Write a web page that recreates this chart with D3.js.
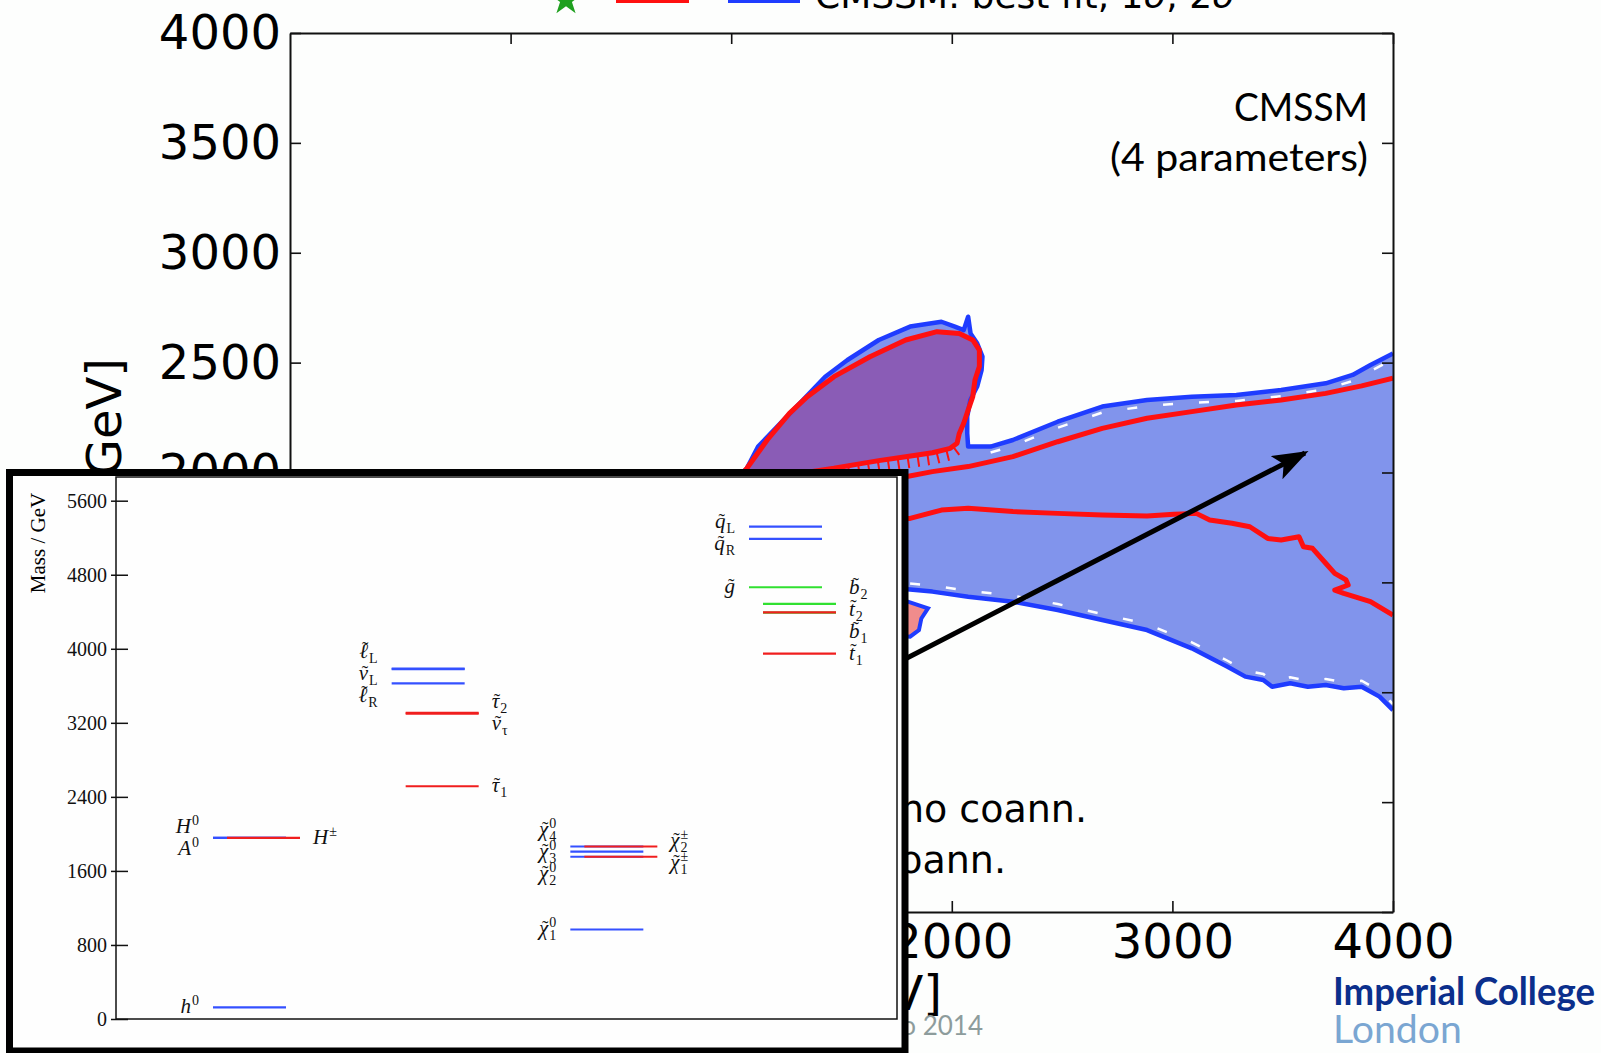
<!DOCTYPE html>
<html>
<head>
<meta charset="utf-8">
<script src="https://cdn.jsdelivr.net/npm/d3@7"></script>
<style>
  body { margin: 0; background: #fdfefd; overflow: hidden; }
  svg { display: block; }
</style>
</head>
<body>
<svg id="chart" width="1601" height="1053"></svg>
<script>
// ---- main plane (m0, m1/2), values in GeV ----
const xTicks = [0, 1000, 2000, 3000, 4000];
const yTicks = [0, 500, 1000, 1500, 2000, 2500, 3000, 3500, 4000];

// 2 sigma outline, upper side (blob + band), left to right
const sigma2Upper = [[1021,1966],[1071,2019],[1122,2118],[1223,2224],[1325,2330],[1426,2436],[1527,2512],
  [1669,2603],[1811,2664],[1953,2686],[2014,2664],[2054,2648],[2074,2709],[2085,2633],[2115,2588],
  [2139,2527],[2135,2466],[2115,2391],[2084,2330],[2070,2254],[2070,2178],[2074,2118],[2176,2118],
  [2277,2148],[2480,2231],[2682,2300],[2885,2330],[3088,2345],[3290,2353],[3493,2375],[3695,2406],
  [3817,2444],[3898,2489],[4000,2542]];
// 2 sigma outline, lower side, left to right
const sigma2Lower = [[1100,1700],[1300,1560],[1669,1480],[1811,1468],[1912,1458],[2074,1435],[2277,1412],
  [2480,1374],[2682,1329],[2885,1283],[3088,1200],[3250,1116],[3331,1071],[3412,1056],[3452,1025],
  [3534,1041],[3614,1025],[3695,1033],[3777,1018],[3858,1025],[3939,980],[4000,919]];
// 1 sigma island (purple)
const blob1s = [[1040,1985],[1071,2019],[1163,2148],[1264,2269],[1345,2345],[1466,2436],[1629,2527],
  [1791,2603],[1933,2641],[2034,2633],[2095,2603],[2125,2557],[2125,2482],[2105,2421],[2095,2345],
  [2074,2284],[2054,2224],[2034,2178],[2024,2133],[1993,2110],[1912,2090],[1791,2072],[1669,2054],
  [1568,2037],[1466,2019],[1264,1989],[1100,1975]];
// 1 sigma band edges
const band1sUpper = [[1669,1960],[1791,1981],[1912,2004],[2074,2027],[2277,2072],[2480,2140],[2682,2201],
  [2885,2247],[3088,2277],[3290,2307],[3493,2330],[3695,2360],[3858,2394],[4000,2429]];
const band1sLower = [[1669,1791],[1811,1791],[1953,1829],[2074,1837],[2277,1822],[2480,1814],[2682,1807],
  [2885,1802],[3007,1810],[3108,1814],[3169,1784],[3270,1769],[3351,1753],[3432,1700],[3493,1693],
  [3574,1708],[3594,1662],[3635,1655],[3695,1587],[3736,1541],[3787,1511],[3797,1488],[3736,1465],
  [3777,1450],[3898,1412],[4000,1351]];
// small island
const smallIsland = [[1700,1420],[1801,1412],[1892,1382],[1862,1336],[1851,1283],[1811,1253],[1700,1260]];
// arrow from the spectrum box into the band
const arrowFrom = [1650, 1080];
const arrowTo = [3601, 2089];

// ---- inset spectrum, masses in GeV ----
const massTicks = [0, 800, 1600, 2400, 3200, 4000, 4800, 5600];
const spectrumGroups = ["higgs", "slepton", "gaugino", "squark"];
const spectrumGroup = ["higgs","higgs","higgs","higgs",
  "slepton","slepton","slepton","slepton","slepton","slepton",
  "gaugino","gaugino","gaugino","gaugino","gaugino","gaugino",
  "squark","squark","squark","squark","squark","squark","squark"];
const spectrumSide = ["L","L","L","R", "L","L","L","R","R","R", "L","L","L","L","R","R", "L","L","L","R","R","R","R"];
const spectrumKind = ["b","b","b","r", "b","b","b","r","r","r", "b","b","b","b","r","r", "b","b","g","g","r","g","r"];
const spectrumMass = [125,1956,1956,1958, 3785,3780,3626,3307,3300,2515, 967,1753,1809,1864,1753,1864,
  5319,5188,4665,4485,4393,4390,3947];
const spectrumBase = ["h","H","A","H", "ℓ","ν","ℓ","τ","ν","τ", "χ","χ","χ","χ","χ","χ",
  "q","q","g","b","t","b","t"];
const spectrumTilde = [0,0,0,0, 1,1,1,1,1,1, 1,1,1,1,1,1, 1,1,1,1,1,1,1];
const spectrumSub = ["","","","", "L","L","R","2","τ","1", "1","2","3","4","1","2", "L","R","","2","2","1","1"];
const spectrumSup = ["0","0","0","±", "","","","","","", "0","0","0","0","±","±", "","","","","","",""];

const svg = d3.select("#chart");

// ---------------- main chart ----------------
const plot = { left: 290, right: 1393, top: 33, bottom: 912 };
const x = d3.scaleLinear().domain([-1000, 4000]).range([plot.left, plot.right]);
const y = d3.scaleLinear().domain([0, 4000]).range([plot.bottom, plot.top]);
const line = d3.line().x(d => x(d[0])).y(d => y(d[1]));

const defs = svg.append("defs");
defs.append("clipPath").attr("id", "plotclip")
  .append("rect")
    .attr("x", plot.left).attr("y", plot.top)
    .attr("width", plot.right - plot.left).attr("height", plot.bottom - plot.top);

defs.append("marker")
  .attr("id", "arrowhead")
  .attr("markerUnits", "userSpaceOnUse")
  .attr("markerWidth", 44).attr("markerHeight", 32)
  .attr("refX", 32).attr("refY", 13)
  .attr("orient", "auto")
  .append("path").attr("d", "M0,0 L36,13 L0,26 L8,13 Z").attr("fill", "#000");

const layer = svg.append("g").attr("clip-path", "url(#plotclip)");

// fills
layer.append("path")
  .attr("d", line(sigma2Upper.concat(sigma2Lower.slice().reverse())) + "Z")
  .attr("fill", "#8194ec");
layer.append("path")
  .attr("d", line(blob1s) + "Z")
  .attr("fill", "#8a5cb6");
layer.append("path")
  .attr("d", line(smallIsland) + "Z")
  .attr("fill", "#f08c8c")
  .attr("stroke", "#1f3cff").attr("stroke-width", 4);

// white steps where the fill grid meets the outline
layer.append("path")
  .attr("d", line(sigma2Upper.slice(22)))
  .attr("transform", "translate(0,6)")
  .attr("fill", "none").attr("stroke", "#fff").attr("stroke-width", 2.5)
  .attr("stroke-dasharray", "10 26");
layer.append("path")
  .attr("d", line(sigma2Lower.slice(3)))
  .attr("transform", "translate(0,-6)")
  .attr("fill", "none").attr("stroke", "#fff").attr("stroke-width", 2.5)
  .attr("stroke-dasharray", "10 26");

// 2 sigma lines
[sigma2Upper, sigma2Lower].forEach(pts => {
  layer.append("path")
    .attr("d", line(pts))
    .attr("fill", "none")
    .attr("stroke", "#1f3cff")
    .attr("stroke-width", 4.5)
    .attr("stroke-linejoin", "round");
});

// 1 sigma lines
layer.append("path")
  .attr("d", line(blob1s) + "Z")
  .attr("fill", "none").attr("stroke", "#ff1010").attr("stroke-width", 5).attr("stroke-linejoin", "round");
[band1sUpper, band1sLower].forEach(pts => {
  layer.append("path")
    .attr("d", line(pts))
    .attr("fill", "none")
    .attr("stroke", "#ff1010")
    .attr("stroke-width", 5)
    .attr("stroke-linejoin", "round");
});
// hatching under the lower edge of the island
layer.append("path")
  .attr("d", line(blob1s.slice(18, 25)))
  .attr("transform", "translate(0,7)")
  .attr("fill", "none")
  .attr("stroke", "#ff1010")
  .attr("stroke-width", 10)
  .attr("stroke-dasharray", "2 8");

// arrow
layer.append("line")
  .attr("x1", x(arrowFrom[0])).attr("y1", y(arrowFrom[1]))
  .attr("x2", x(arrowTo[0])).attr("y2", y(arrowTo[1]))
  .attr("stroke", "#000").attr("stroke-width", 5)
  .attr("marker-end", "url(#arrowhead)");

// axes
function styleAxis(g, size) {
  g.select(".domain").attr("stroke", "#111").attr("stroke-width", 2);
  g.selectAll(".tick line").attr("stroke", "#111").attr("stroke-width", 1.6);
  g.selectAll("text")
    .attr("font-family", "DejaVu Sans, sans-serif")
    .attr("font-size", size)
    .attr("fill", "#000");
}
svg.append("g").attr("transform", `translate(0,${plot.bottom})`)
  .call(d3.axisBottom(x).tickValues(xTicks).tickSize(-11).tickSizeOuter(0).tickPadding(12).tickFormat(d3.format("d")))
  .call(g => styleAxis(g, 48));
svg.append("g").attr("transform", `translate(0,${plot.top})`)
  .call(d3.axisTop(x).tickValues(xTicks).tickSize(-11).tickSizeOuter(0).tickFormat(""))
  .call(g => styleAxis(g, 48));
svg.append("g").attr("transform", `translate(${plot.left},0)`)
  .call(d3.axisLeft(y).tickValues(yTicks).tickSize(-11).tickSizeOuter(0).tickPadding(9).tickFormat(d3.format("d")))
  .call(g => styleAxis(g, 48));
svg.append("g").attr("transform", `translate(${plot.right},0)`)
  .call(d3.axisRight(y).tickValues(yTicks).tickSize(-11).tickSizeOuter(0).tickFormat(""))
  .call(g => styleAxis(g, 48));

// axis titles
const xt = svg.append("text")
  .attr("x", 942).attr("y", 1010)
  .attr("text-anchor", "end")
  .attr("font-family", "DejaVu Sans, sans-serif").attr("font-size", 48);
xt.append("tspan").attr("font-style", "italic").text("m");
xt.append("tspan").attr("font-size", 32).attr("dy", 9).text("0");
xt.append("tspan").attr("dy", -9).text(" [GeV]");

const yt = svg.append("text")
  .attr("transform", "translate(121,358) rotate(-90)")
  .attr("text-anchor", "end")
  .attr("font-family", "DejaVu Sans, sans-serif").attr("font-size", 48);
yt.append("tspan").attr("font-style", "italic").text("m");
yt.append("tspan").attr("font-size", 32).attr("dy", 9).text("1/2");
yt.append("tspan").attr("dy", -9).text(" [GeV]");

// legend (cut by the top of the page)
svg.append("path")
  .attr("d", d3.symbol(d3.symbolStar, 300)())
  .attr("transform", "translate(566,0)")
  .attr("fill", "#1fa01f");
svg.append("line").attr("x1", 616).attr("x2", 689).attr("y1", 1).attr("y2", 1)
  .attr("stroke", "#ff1010").attr("stroke-width", 4);
svg.append("line").attr("x1", 728).attr("x2", 800).attr("y1", 1).attr("y2", 1)
  .attr("stroke", "#1f3cff").attr("stroke-width", 4);
const lg = svg.append("text")
  .attr("x", 815).attr("y", 8)
  .attr("font-family", "DejaVu Sans, sans-serif").attr("font-size", 36);
lg.append("tspan").text("CMSSM: best fit, 1");
lg.append("tspan").attr("font-style", "italic").text("σ");
lg.append("tspan").text(", 2");
lg.append("tspan").attr("font-style", "italic").text("σ");

// annotations
svg.append("text").attr("x", 1368).attr("y", 121).attr("text-anchor", "end")
  .attr("font-family", "Lato, sans-serif").attr("font-size", 38)
  .attr("textLength", 134).attr("lengthAdjust", "spacingAndGlyphs").text("CMSSM");
svg.append("text").attr("x", 1368).attr("y", 171).attr("text-anchor", "end")
  .attr("font-family", "Lato, sans-serif").attr("font-size", 38)
  .attr("textLength", 258).attr("lengthAdjust", "spacingAndGlyphs").text("(4 parameters)");
svg.append("text").attr("x", 1087).attr("y", 822).attr("text-anchor", "end")
  .attr("font-family", "DejaVu Sans, sans-serif").attr("font-size", 38).text("no coann.");
svg.append("text").attr("x", 1006).attr("y", 873).attr("text-anchor", "end")
  .attr("font-family", "DejaVu Sans, sans-serif").attr("font-size", 38).text("coann.");

svg.append("text").attr("x", 983).attr("y", 1035).attr("text-anchor", "end")
  .attr("font-family", "Lato, sans-serif").attr("font-size", 26).attr("fill", "#8d9c9c")
  .text("o 2014");

svg.append("text").attr("x", 1333).attr("y", 1005)
  .attr("font-family", "Lato, sans-serif").attr("font-size", 39).attr("font-weight", 700)
  .attr("fill", "#0b2f8c").attr("textLength", 262).attr("lengthAdjust", "spacingAndGlyphs")
  .text("Imperial College");
svg.append("text").attr("x", 1333).attr("y", 1043)
  .attr("font-family", "Lato, sans-serif").attr("font-size", 39)
  .attr("fill", "#7aa6d2").attr("textLength", 129).attr("lengthAdjust", "spacingAndGlyphs")
  .text("London");

// ---------------- inset: mass spectrum ----------------
const inset = { left: 116, right: 897, top: 477, bottom: 1019 };
const insetG = svg.append("g");
insetG.append("rect")
  .attr("x", 9.5).attr("y", 472.5).attr("width", 895.5).attr("height", 578.5)
  .attr("fill", "#fefefe").attr("stroke", "#000").attr("stroke-width", 7);
insetG.append("rect")
  .attr("x", inset.left).attr("y", inset.top)
  .attr("width", inset.right - inset.left).attr("height", inset.bottom - inset.top)
  .attr("fill", "none").attr("stroke", "#111").attr("stroke-width", 1.5);

const yi = d3.scaleLinear().domain([0, 5856]).range([inset.bottom, inset.top]);
const col = d3.scalePoint().domain(spectrumGroups).range([213, 749]);
const sideShift = { L: 0, R: 14 };
const lineLen = 73;
const kindColor = { b: "#3450ff", r: "#f01e1e", g: "#30e030" };

insetG.append("g").attr("transform", `translate(${inset.left},0)`)
  .call(d3.axisLeft(yi).tickValues(massTicks).tickSize(-12).tickSizeOuter(0).tickPadding(9).tickFormat(d3.format("d")))
  .call(g => {
    g.select(".domain").remove();
    g.selectAll(".tick line").attr("x1", -5).attr("stroke", "#111").attr("stroke-width", 1.5);
    g.selectAll("text")
      .attr("font-family", "Liberation Serif, serif")
      .attr("font-size", 20)
      .style("font-variant-numeric", "oldstyle-nums")
      .attr("fill", "#111");
  });

insetG.append("text")
  .attr("transform", `translate(45,${(inset.top + 609) / 2}) rotate(-90)`)
  .attr("text-anchor", "middle")
  .attr("font-family", "Liberation Serif, serif").attr("font-size", 21)
  .text("Mass / GeV");

const spectrum = spectrumMass.map((m, i) => ({
  i, mass: m, group: spectrumGroup[i], side: spectrumSide[i], kind: spectrumKind[i],
  base: spectrumBase[i], tilde: spectrumTilde[i], sub: spectrumSub[i], sup: spectrumSup[i]
}));

const drawOrder = { b: 0, g: 1, r: 2 };
insetG.append("g").selectAll("line")
  .data(spectrum.slice().sort((a, b) => drawOrder[a.kind] - drawOrder[b.kind]))
  .join("line")
    .attr("x1", d => col(d.group) + sideShift[d.side])
    .attr("x2", d => col(d.group) + sideShift[d.side] + lineLen)
    .attr("y1", d => yi(d.mass))
    .attr("y2", d => yi(d.mass))
    .attr("stroke", d => kindColor[d.kind])
    .attr("stroke-width", 2.2);

// spread labels so they do not overlap
function spreadLabels(items, gap) {
  const sorted = items.slice().sort((a, b) => (yi(a.mass) - yi(b.mass)) || (a.i - b.i));
  const clusters = [];
  sorted.forEach(it => {
    clusters.push({ items: [it], start: yi(it.mass) });
    while (clusters.length > 1) {
      const cur = clusters[clusters.length - 1], prev = clusters[clusters.length - 2];
      if (prev.start + prev.items.length * gap > cur.start) {
        const items2 = prev.items.concat(cur.items);
        const mean = d3.mean(items2, d => yi(d.mass));
        clusters.splice(-2, 2, { items: items2, start: mean - (items2.length - 1) * gap / 2 });
      } else break;
    }
  });
  clusters.forEach(c => c.items.forEach((it, k) => { it.labelY = c.start + k * gap; }));
}
d3.groups(spectrum, d => d.group, d => d.side).forEach(([, sides]) => {
  sides.forEach(([, items]) => spreadLabels(items, 22));
});

const tallBase = new Set(["ℓ", "b", "t"]);
const labelG = insetG.append("g")
  .attr("font-family", "Liberation Serif, serif")
  .attr("fill", "#111");
spectrum.forEach(d => {
  const g = labelG.append("g");
  const baseT = g.append("text").attr("x", 0).attr("y", 0)
    .attr("font-size", 21).attr("font-style", "italic").text(d.base);
  const bw = baseT.node().getComputedTextLength();
  if (d.tilde) {
    g.append("text")
      .attr("x", bw / 2 + 1.5).attr("y", tallBase.has(d.base) ? -3 : -1)
      .attr("text-anchor", "middle")
      .attr("font-size", 19).text("˜");
  }
  let extra = 0;
  if (d.sup) {
    const s = g.append("text").attr("x", bw + 1).attr("y", -8).attr("font-size", 14).text(d.sup);
    extra = Math.max(extra, s.node().getComputedTextLength() + 1);
  }
  if (d.sub) {
    const s = g.append("text").attr("x", bw + 1).attr("y", 5).attr("font-size", 14).text(d.sub);
    extra = Math.max(extra, s.node().getComputedTextLength() + 1);
  }
  const total = bw + extra;
  const x0 = col(d.group) + sideShift[d.side];
  const tx = d.side === "L" ? x0 - 14 - total : x0 + lineLen + 13;
  g.attr("transform", `translate(${tx},${d.labelY + 6})`);
});
</script>
</body>
</html>
